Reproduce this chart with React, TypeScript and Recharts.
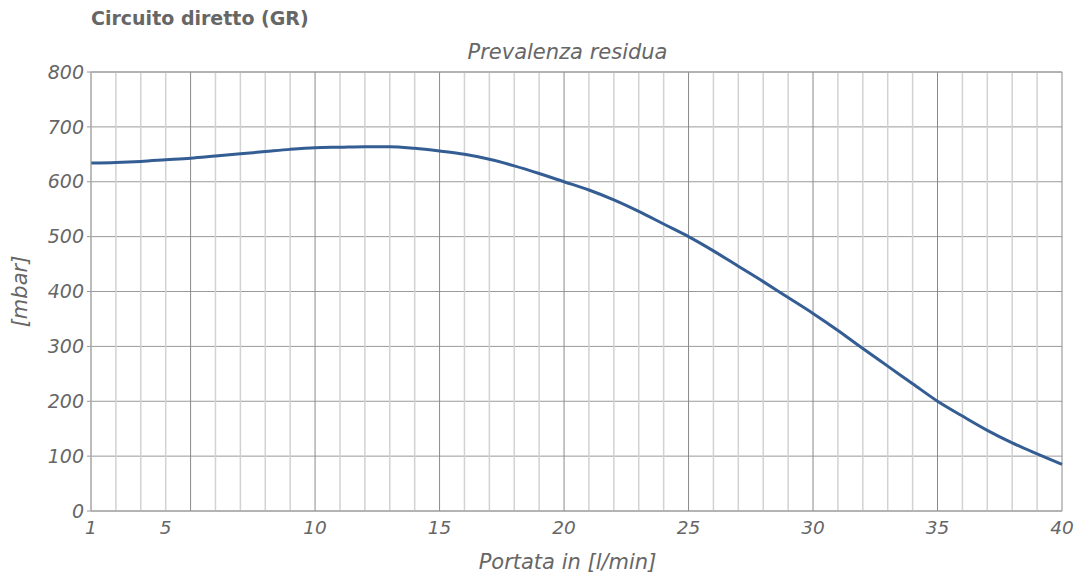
import React from 'react';
import {
  LineChart,
  Line,
  XAxis,
  YAxis,
  CartesianGrid,
  ReferenceLine,
  Label,
} from 'recharts';

const FLOW = [
  1, 2, 3, 4, 5, 6, 7, 8, 9, 10, 11, 12, 13, 14, 15, 16, 17, 18, 19, 20,
  21, 22, 23, 24, 25, 26, 27, 28, 29, 30, 31, 32, 33, 34, 35, 36, 37, 38, 39, 40,
];
const PRESSURE = [
  634, 635, 637, 640, 643, 647, 651, 655, 659, 662, 663, 664, 664, 661, 656, 650, 641, 629, 615, 600,
  585, 567, 546, 523, 500, 474, 446, 418, 389, 360, 329, 296, 264, 232, 200, 173, 147, 124, 104, 85,
];
const Y_TICKS = [0, 100, 200, 300, 400, 500, 600, 700, 800];
// label positions on the axis and the text printed there
const X_LABEL_AT = [1, 4, 10, 15, 20, 25, 30, 35, 40];
const X_LABEL_TEXT = ['1', '5', '10', '15', '20', '25', '30', '35', '40'];

const FONT = '"DejaVu Sans", sans-serif';
const TEXT = '#666';

const data = FLOW.map((x, i) => ({ x, y: PRESSURE[i] }));

function XTick({ x, y, payload }: any) {
  const i = X_LABEL_AT.indexOf(payload.value);
  if (i < 0) return null;
  return (
    <text x={x} y={y + 15} textAnchor="middle" fontSize={18.5} fontStyle="italic" fill={TEXT} fontFamily={FONT}>
      {X_LABEL_TEXT[i]}
    </text>
  );
}

export default function App() {
  return (
    <div style={{ position: 'absolute', left: 0, top: 0, width: 1079, height: 576, background: '#fff' }}>
      <div
        style={{
          position: 'absolute',
          left: 91,
          top: 7,
          fontFamily: FONT,
          fontWeight: 700,
          fontSize: 19,
          color: TEXT,
        }}
      >
        Circuito diretto (GR)
      </div>
      <LineChart width={1079} height={576} data={data} margin={{ top: 72, right: 17, bottom: 0, left: 0 }}>
        <CartesianGrid vertical={false} stroke="#9a9a9a" strokeWidth={1} />
        {FLOW.filter((v) => v % 5 !== 0).map((v) => (
          <ReferenceLine key={'m' + v} x={v} stroke="#d2d2d2" strokeWidth={1.5} />
        ))}
        {FLOW.filter((v) => v % 5 === 0).map((v) => (
          <ReferenceLine key={'M' + v} x={v} stroke="#8a8a8a" strokeWidth={1} />
        ))}
        <ReferenceLine y={800} stroke="#9a9a9a">
          <Label
            value="Prevalenza residua"
            position="top"
            offset={13}
            dx={-9}
            style={{ fontSize: 21, fontStyle: 'italic', fill: TEXT, fontFamily: FONT }}
          />
        </ReferenceLine>
        <XAxis
          type="number"
          dataKey="x"
          domain={[1, 40]}
          ticks={X_LABEL_AT}
          interval={0}
          height={65}
          tick={<XTick />}
          tickLine={false}
          axisLine={{ stroke: '#9a9a9a' }}
        >
          <Label
            value="Portata in [l/min]"
            position="insideBottom"
            offset={7}
            dx={-9}
            style={{ fontSize: 21, fontStyle: 'italic', fill: TEXT, fontFamily: FONT }}
          />
        </XAxis>
        <YAxis
          type="number"
          domain={[0, 800]}
          ticks={Y_TICKS}
          interval={0}
          width={91}
          tickSize={4}
          tickMargin={3}
          tickLine={{ stroke: '#9a9a9a' }}
          axisLine={{ stroke: '#9a9a9a' }}
          tick={{ fontSize: 19, fontStyle: 'italic', fill: TEXT, fontFamily: FONT }}
        >
          <Label
            value="[mbar]"
            angle={-90}
            position="insideLeft"
            offset={20}
            style={{ fontSize: 21, fontStyle: 'italic', fill: TEXT, fontFamily: FONT, textAnchor: 'middle' }}
          />
        </YAxis>
        <Line
          type="monotone"
          dataKey="y"
          stroke="#345d94"
          strokeWidth={3}
          dot={false}
          isAnimationActive={false}
        />
      </LineChart>
    </div>
  );
}
